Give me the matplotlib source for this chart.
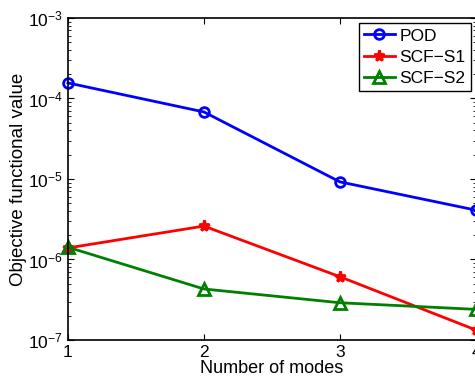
import numpy as np
import matplotlib
matplotlib.use("Agg")
import matplotlib.pyplot as plt

plt.rcParams['font.family'] = ['Liberation Sans', 'DejaVu Sans']
plt.rcParams['mathtext.fontset'] = 'custom'
plt.rcParams['mathtext.rm'] = 'Liberation Sans'
plt.rcParams['mathtext.it'] = 'Liberation Sans'
plt.rcParams['mathtext.default'] = 'regular'

# valeurs
modes = [1, 2, 3, 4]
pod = [1.56e-4, 6.8e-5, 9.2e-6, 4.1e-6]
scf_s1 = [1.39e-6, 2.6e-6, 6.1e-7, 1.33e-7]
scf_s2 = [1.42e-6, 4.3e-7, 2.9e-7, 2.4e-7]

fig = plt.figure(figsize=(4.75, 3.82), dpi=100)
ax = fig.add_axes([0.143, 0.110, 0.859, 0.843])

ax.semilogy(modes, pod, '-o', color='blue', lw=2, ms=7, mew=2,
            mfc='none', label='POD', clip_on=False)
ax.semilogy(modes, scf_s1, '-*', color='red', lw=2, ms=8, mew=2,
            label='SCF\u2212S1', clip_on=False)
ax.semilogy(modes, scf_s2, '-^', color='green', lw=2, ms=8, mew=2,
            mfc='none', label='SCF\u2212S2', clip_on=False)

ax.set_xlim(1, 4)
ax.set_ylim(1e-7, 1e-3)
ax.set_xticks(modes)
ax.set_xlabel("Number of modes", fontsize=13, labelpad=0)
ax.set_ylabel("Objective functional value", fontsize=13.5, labelpad=1)
ax.tick_params(which='both', direction='in', top=True, right=True, labelsize=12.5)
ax.tick_params(which='major', length=4)
ax.tick_params(which='minor', length=2)
for s in ax.spines.values():
    s.set_linewidth(1.2)

leg = ax.legend(loc='upper right', fontsize=12.5, fancybox=False,
                edgecolor='black', framealpha=1, borderpad=0.3,
                labelspacing=0.35, handlelength=1.8, handletextpad=0.25,
                borderaxespad=0.3)
leg.get_frame().set_linewidth(1.0)

fig.savefig("out.png", dpi=100)
